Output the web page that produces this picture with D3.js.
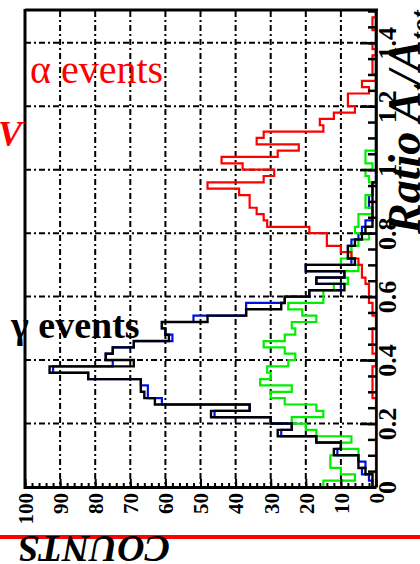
<!DOCTYPE html>
<html><head><meta charset="utf-8">
<script src="https://cdn.jsdelivr.net/npm/d3@7"></script>
<style>body{margin:0;background:#fff;} svg{display:block;}</style>
</head><body><svg id="c" width="420" height="564"></svg>
<script>
// ---- data (histograms in bins of ratio, counts per bin) ----
const binWidth = 0.02;
const gammaCounts = [1,1,3,5,5,12,10,17,28,24,30,47,36,63,66,67,67,82,93,69,77,75,69,59,60,61,48,37,27,26,19,9,17,9,20,6,8,8,6,4,3,1,1,1,1,1,1,1,0,0,0,0,0,0,0,0,0,0,0,0,0,0,0,0,0,0,0,0,0,0,0,0,0,0,0];
const gammaCountsBlue = [1,2,4,3,5,11,10,17,27,24,30,46,36,61,65,65,67,82,92,75,77,75,69,58,60,61,52,37,37,26,19,10,17,9,20,7,8,8,7,5,4,3,1,1,2,2,1,1,0,0,0,0,0,0,0,0,0,0,0,0,0,0,0,0,0,0,0,0,0,0,0,0,0,0,0];
const greenCounts = [15,6,10,13,13,5,10,7,17,20,24,15,17,26,30,24,33,30,31,25,23,26,32,26,23,24,17,21,25,15,15,12,8,9,5,10,7,7,5,2,6,5,5,1,3,3,1,1,2,3,1,3,3,0,0,0,0,0,0,0,0,0,0,0,0,0,0,0,0,0,0,0,0,0,0];
const alphaCounts = [0,0,0,0,0,0,0,0,0,0,0,0,0,0,1,1,1,1,1,0,0,1,1,1,1,0,0,1,1,2,2,2,3,4,4,5,7,10,14,14,19,31,32,34,36,36,39,48,32,29,38,44,28,22,34,32,15,16,12,6,8,8,2,4,0,1,1,1,0,1,0,0,1,1,0];
const countTicks = [100,90,80,70,60,50,40,30,20,10,0];
const ratioTicks = [0,0.2,0.4,0.6,0.8,1.0,1.2,1.4];
const ratioLabels = ["0","0.2","0.4","0.6","0.8","1","1.2","1.4"];

const svg = d3.select("#c");
const x = d3.scaleLinear().domain([0,100]).range([376,25]);
const y = d3.scaleLinear().domain([0,1.5]).range([487,11]);
const serif = "'Liberation Serif','Times New Roman',serif";

// grid
const grid = svg.append("g").attr("stroke","#000").attr("stroke-width",2).attr("stroke-dasharray","6,3,2,3");
grid.selectAll("line.v").data(countTicks.filter(d=>d>0&&d<100)).join("line")
  .attr("x1",d=>x(d)).attr("x2",d=>x(d)).attr("y1",y(1.5)).attr("y2",y(0));
grid.selectAll("line.h").data(ratioTicks.filter(d=>d>0)).join("line")
  .attr("y1",d=>y(d)).attr("y2",d=>y(d)).attr("x1",x(100)).attr("x2",x(0));

// histograms
function stepPoints(counts){
  const pts=[[0,0]];
  counts.forEach((c,k)=>{pts.push([c,k*binWidth]);pts.push([c,(k+1)*binWidth]);});
  pts.push([0,counts.length*binWidth]);
  return pts;
}
const line = d3.line().x(d=>x(d[0])).y(d=>y(d[1]));
const series = [
  {v:gammaCountsBlue,c:"#0010e0",w:2.2},
  {v:greenCounts,c:"#00ee00",w:2.2},
  {v:alphaCounts,c:"#ff0000",w:2.2},
  {v:gammaCounts,c:"#000000",w:2.4}
];
svg.append("g").selectAll("path").data(series).join("path")
  .attr("d",d=>line(stepPoints(d.v))).attr("fill","none")
  .attr("stroke",d=>d.c).attr("stroke-width",d=>d.w);

// frame
svg.append("line").attr("x1",x(100)).attr("x2",x(0)+2).attr("y1",y(1.5)-1).attr("y2",y(1.5)-1).attr("stroke","#000").attr("stroke-width",3);
svg.append("line").attr("x1",x(100)).attr("x2",x(100)).attr("y1",y(1.5)-2).attr("y2",y(0)+2).attr("stroke","#000").attr("stroke-width",3);

// bottom axis (counts)
const bx = svg.append("g").attr("transform",`translate(0,${y(0)})`)
  .call(d3.axisBottom(x).tickValues(countTicks).tickSizeInner(-8).tickSizeOuter(0));
bx.select(".domain").attr("stroke-width",3);
bx.selectAll(".tick line").attr("stroke-width",2);
bx.selectAll("text").attr("transform","rotate(-90)").attr("x",-6).attr("y",0).attr("dy","0.35em")
  .attr("text-anchor","end").attr("font-family",serif).attr("font-weight","bold").attr("font-size",21).attr("fill","#000");
const bxm = svg.append("g").attr("transform",`translate(0,${y(0)})`)
  .call(d3.axisBottom(x).tickValues(d3.range(0,101,2)).tickSizeInner(-4).tickSizeOuter(0).tickFormat(""));
bxm.select(".domain").remove();
bxm.selectAll(".tick line").attr("stroke-width",2);

// right axis (ratio)
const ry = svg.append("g").attr("transform",`translate(${x(0)},0)`)
  .call(d3.axisRight(y).tickValues(ratioTicks).tickFormat((d,i)=>ratioLabels[i]).tickSizeInner(-16).tickSizeOuter(0));
ry.select(".domain").attr("stroke-width",2.5);
ry.selectAll(".tick line").attr("stroke-width",2.5);
ry.selectAll("text").attr("transform","translate(20,0) rotate(-90)").attr("x",0).attr("y",0).attr("dy",0)
  .attr("text-anchor","middle").attr("font-family",serif).attr("font-weight","bold").attr("font-size",26).attr("fill","#000");
const rym = svg.append("g").attr("transform",`translate(${x(0)},0)`)
  .call(d3.axisRight(y).tickValues(d3.range(0,1.5001,0.05)).tickSizeInner(-8).tickSizeOuter(0).tickFormat(""));
rym.select(".domain").remove();
rym.selectAll(".tick line").attr("stroke-width",2.5);

// axis title (right)
const rt = svg.append("text").attr("transform","translate(420,234) rotate(-90)")
  .attr("font-family",serif).attr("font-weight","bold").attr("font-style","italic").attr("font-size",46).attr("fill","#000");
rt.append("tspan").text("Ratio A");
rt.append("tspan").attr("font-size",28).attr("dy",10).text("t");
rt.append("tspan").attr("dy",-10).text("/A");
rt.append("tspan").attr("font-size",28).attr("dy",10).text("tot");

// annotations
svg.append("text").attr("x",30).attr("y",83).attr("font-family",serif)
  .attr("font-size",40).attr("fill","#ff0000").text("α events");
svg.append("text").attr("x",11).attr("y",338).attr("font-family",serif).attr("font-weight","bold")
  .attr("font-size",38).attr("fill","#000").text("γ events");
svg.append("text").attr("x",22).attr("y",146).attr("text-anchor","end").attr("font-family",serif).attr("font-weight","bold")
  .attr("font-style","italic").attr("font-size",36).attr("fill","#ff0000").text("keV");

// bottom red rule and upside-down COUNTS label
svg.append("line").attr("x1",0).attr("x2",420).attr("y1",537).attr("y2",537).attr("stroke","#ff0000").attr("stroke-width",4);
svg.append("text").attr("transform","translate(94,536) rotate(180)").attr("text-anchor","middle")
  .attr("font-family",serif).attr("font-weight","bold").attr("font-style","italic").attr("font-size",38).attr("fill","#000").text("COUNTS");
</script></body></html>
